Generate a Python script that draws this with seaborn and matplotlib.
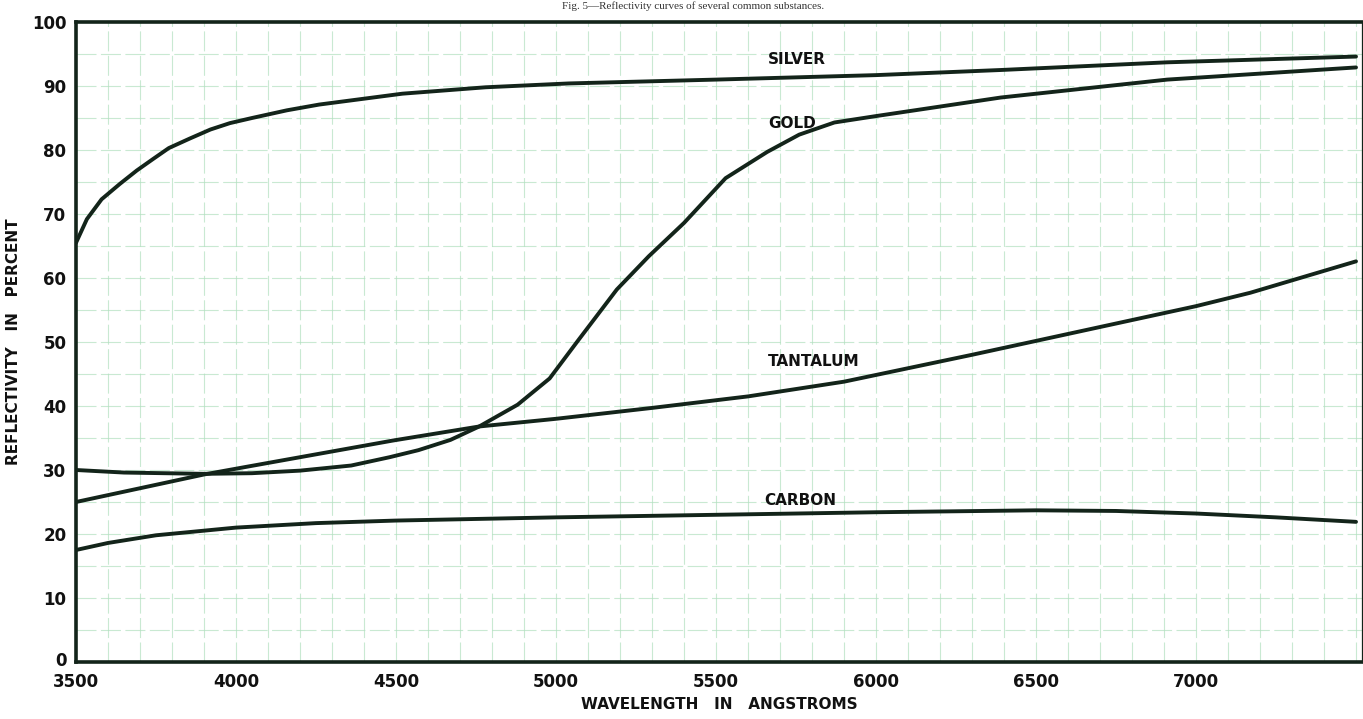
import numpy as np
import pandas as pd
import matplotlib
matplotlib.use("Agg")
import matplotlib.pyplot as plt
import matplotlib.transforms as mtransforms
import seaborn as sns

# ---- data ----
silver_wl = [3500, 3534, 3580, 3637, 3690, 3741, 3790, 3856, 3920, 3981, 4050, 4159, 4260, 4520,
             4780, 5040, 5500, 6000, 6390, 6910, 7500]
silver_r = [65.5, 69.2, 72.3, 74.7, 76.8, 78.6, 80.3, 81.8, 83.2, 84.2, 85.0, 86.2, 87.1, 88.8,
            89.8, 90.4, 91.0, 91.7, 92.5, 93.7, 94.6]

gold_wl = [3500, 3650, 3900, 4050, 4200, 4360, 4480, 4570, 4670, 4760, 4880, 4980, 5070, 5190,
           5290, 5400, 5530, 5660, 5760, 5870, 6000, 6390, 6910, 7500]
gold_r = [30.0, 29.6, 29.4, 29.5, 29.9, 30.7, 32.0, 33.1, 34.7, 36.8, 40.2, 44.3, 50.3, 58.2,
          63.4, 68.6, 75.6, 79.7, 82.4, 84.3, 85.3, 88.2, 91.0, 92.9]

tantalum_wl = [3500, 3900, 4044, 4490, 4760, 5000, 5300, 5600, 5900, 6300, 6650, 7000, 7170, 7500]
tantalum_r = [25.0, 29.3, 30.6, 34.6, 36.8, 38.0, 39.7, 41.5, 43.8, 48.0, 51.8, 55.6, 57.7, 62.6]

carbon_wl = [3500, 3600, 3750, 4000, 4250, 4500, 5000, 5500, 6000, 6500, 6750, 7000, 7250, 7500]
carbon_r = [17.5, 18.6, 19.8, 21.0, 21.7, 22.1, 22.6, 23.0, 23.4, 23.7, 23.6, 23.2, 22.6, 21.9]

series_names = ["SILVER", "GOLD", "TANTALUM", "CARBON"]
label_wl = [5662, 5662, 5662, 5650]
label_r = [94.2, 84.1, 47.0, 25.3]

x_ticks = [3500, 4000, 4500, 5000, 5500, 6000, 6500, 7000]
y_ticks = [0, 10, 20, 30, 40, 50, 60, 70, 80, 90, 100]

title_text = "Fig. 5\u2014Reflectivity curves of several common substances."
xlabel_text = "WAVELENGTH   IN   ANGSTROMS"
ylabel_text = "REFLECTIVITY   IN   PERCENT"

# ---- build long table ----
frames = []
for name, wl, r in zip(series_names,
                       [silver_wl, gold_wl, tantalum_wl, carbon_wl],
                       [silver_r, gold_r, tantalum_r, carbon_r]):
    frames.append(pd.DataFrame({"wavelength": wl, "reflectivity": r, "substance": name}))
df = pd.concat(frames, ignore_index=True)

sns.set_theme(style="white")
plt.rcParams["font.family"] = ["DejaVu Sans"]

W, H = 1363, 719
fig = plt.figure(figsize=(W / 100, H / 100), dpi=100)
ax = fig.add_axes([76 / W, 1 - 662 / H, (1362 - 76) / W, (662 - 22) / H])

line_color = "#13241a"
grid_color = "#b2e0c0"

sns.lineplot(data=df, x="wavelength", y="reflectivity", hue="substance",
             palette={n: line_color for n in series_names}, estimator=None,
             sort=False, linewidth=2.8, legend=False, ax=ax, zorder=3)

ax.set_xlim(3500, 3500 + 1286 / 0.32)
ax.set_ylim(0, 100)

ax.set_xticks(x_ticks)
ax.set_yticks(y_ticks)
ax.set_xticks(np.arange(3500, 7520, 100), minor=True)
ax.set_yticks(np.arange(0, 101, 5), minor=True)
ax.grid(True, which="both", color=grid_color, linewidth=0.8, linestyle=(0, (18, 4)), alpha=0.7, zorder=0)
ax.tick_params(which="both", length=0)
ax.tick_params(axis="x", pad=8)
ax.tick_params(axis="y", pad=7)
for lab in ax.get_xticklabels() + ax.get_yticklabels():
    lab.set_fontsize(12)
    lab.set_fontweight("bold")
    lab.set_color("#111111")

# nudge the "0" label upward slightly so it does not touch "3500"
zero_lab = ax.get_yticklabels()[0]
zero_lab.set_transform(zero_lab.get_transform() + mtransforms.ScaledTranslation(0, 3 / 100, fig.dpi_scale_trans))

ax.set_xlabel(xlabel_text, fontsize=11, fontweight="bold", color="#111111", labelpad=4)
ax.set_ylabel(ylabel_text, fontsize=11, fontweight="bold", color="#111111", labelpad=8)

for side in ["left", "bottom", "top"]:
    ax.spines[side].set_linewidth(2.6)
    ax.spines[side].set_color(line_color)
ax.spines["right"].set_linewidth(0.9)
ax.spines["right"].set_color(line_color)
ax.spines["right"].set_visible(True)

for name, lx, ly in zip(series_names, label_wl, label_r):
    ax.text(lx, ly, name, fontsize=11, fontweight="bold", color="#111111",
            ha="left", va="center", zorder=4)

fig.text(693 / W, 1 - 1 / H, title_text, fontsize=8, family=["Liberation Serif", "DejaVu Serif"],
         color="#333333", ha="center", va="top")

fig.savefig("out.png", dpi=100, facecolor="white")
